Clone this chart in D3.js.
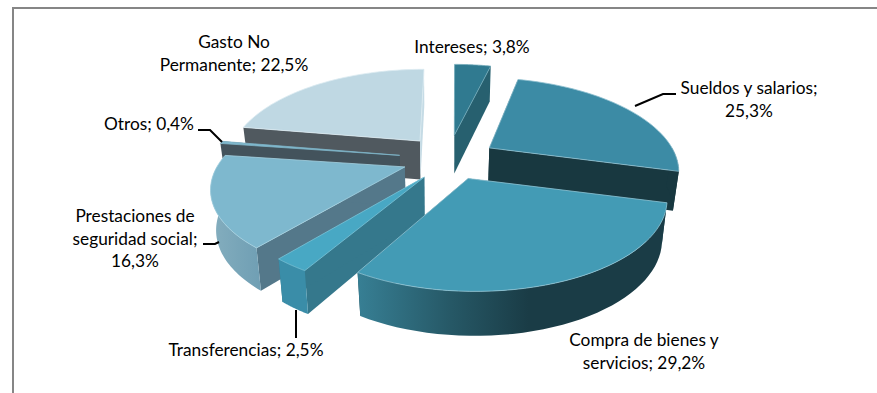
<!DOCTYPE html>
<html>
<head>
<meta charset="utf-8">
<style>html,body{margin:0;padding:0;background:#fff}svg{display:block}</style>
<script src="https://cdn.jsdelivr.net/npm/d3@7"></script>
</head>
<body>
<svg id="c" width="877" height="393"></svg>
<script>
const categories = ["Sueldos y salarios","Compra de bienes y servicios","Transferencias","Prestaciones de seguridad social","Otros","Gasto No Permanente","Intereses"];
const values = [25.3,29.2,2.5,16.3,0.4,22.5,3.8];
const wordsPerLine = [[3,1],[4,2],[2],[2,2,1],[2],[2,2],[2]];

const explode = [0.3,0.1,0.1,0.15,0.2,0.15,0.15];
const nudge = [[3,1],[21,10.5],[-5,10],[-9,2.3],[-4,-2],[-2.5,-9],[11,-12]];
const radius = [1.02,1,1,1.02,1.02,1.03,1.03];
const arcShift = [0,5,0,3,0,0,0];
const faceY = [1,0.95,0.95,0.93,1,1,1];
const drawOrder = [5,6,0,4,3,2,1];
const topFill   = ["#3c8ba5","#439bb5","#48a8c4","#7eb8ce","#7eb8ce","#bfd8e3","#307a90"];
const startWall = ["#183840","#1f4a57","#35788c","#54788a","#43535c","#50595f","#27606f"];
const endWall   = ["#183840","#1f4a57","#35788c","#54788a","#43535c","#c5dbe5","#27606f"];
const arcWall   = ["#183840","url(#gCompra)","#3a8da8","url(#gPrest)","#43535c","#50595f","#27606f"];
const edge      = ["#8fc0d0","#8fc4d4","#7cc4d8","#a5d0e0","#7fb4c6","#dcebf1","#6fa8b8"];
const labelPos  = [[749,94],[644,346],[246,356],[135,222],[149,130],[234,48],[472,53]];
const lineGap   = 22.7;
const leaders   = [[[635,106],[663,94],[676,94]],[],[[296,310],[296,338]],[[203,244],[215,244],[219,242]],[[198,130],[210,130],[222,142]],[],[]];

const svg = d3.select("#c");
const cx = 440, cy = 160, persp = 0.216;
const sx = d3.scaleLinear().domain([0,1]).range([0,185]);
const sy = d3.scaleLinear().domain([0,1]).range([0,-89]);
const project = (x,y,low,fy) => {
  const s = 1/(1+persp*y);
  let X = sx(x)*s, Y = sy(y)*s*fy;
  if (low) { X *= 0.975; Y = Y*1.045+39; }
  return [cx+X, cy+Y];
};
const line = d3.line();

const defs = svg.append("defs");
const grad = (id,x1,x2,stops) => {
  const g = defs.append("linearGradient").attr("id",id).attr("gradientUnits","userSpaceOnUse")
    .attr("x1",x1).attr("x2",x2).attr("y1",0).attr("y2",0);
  stops.forEach(([o,c]) => g.append("stop").attr("offset",o).attr("stop-color",c));
};
grad("gCompra",358,668,[[0,"#377f94"],[0.3,"#265866"],[0.55,"#1a3c46"],[1,"#1a3c46"]]);
grad("gPrest",208,270,[[0,"#86afbf"],[0.5,"#78a5b8"],[1,"#6c9cb2"]]);

svg.append("path").attr("d",line([[13,393],[13,8],[877,8]])).attr("fill","none").attr("stroke","#868686").attr("stroke-width",2);

const rot = 14;
const pie = d3.pie().sort(null).startAngle(rot*Math.PI/180).endAngle((rot+360)*Math.PI/180);
const arcs = pie(values);
const halfFront = [Math.PI/2, 3*Math.PI/2];

const g = svg.append("g");
drawOrder.forEach(i => {
  const a = arcs[i], mid = (a.startAngle+a.endAngle)/2, e = explode[i], r = radius[i], fy = faceY[i];
  const ox = e*Math.sin(mid), oy = e*Math.cos(mid);
  const shift = p => [p[0]+nudge[i][0], p[1]+nudge[i][1]];
  const pt = (th,low) => { const q = shift(project(ox+r*Math.sin(th), oy+r*Math.cos(th), low, fy)); return [q[0]+arcShift[i], q[1]]; };
  const apex = low => shift(project(ox,oy,low,fy));
  const sample = (a0,a1) => d3.range(0,41).map(k => a0+(a1-a0)*k/40);
  const wall = (th,fill) => g.append("path").attr("d",line([apex(false),pt(th,false),pt(th,true),apex(true)])+"Z").attr("fill",fill);
  wall(a.startAngle,startWall[i]);
  wall(a.endAngle,endWall[i]);
  const f0 = Math.max(a.startAngle,halfFront[0]), f1 = Math.min(a.endAngle,halfFront[1]);
  if (f1>f0) {
    const ths = sample(f0,f1);
    const pts = ths.map(t=>pt(t,false)).concat(ths.slice().reverse().map(t=>pt(t,true)));
    g.append("path").attr("d",line(pts)+"Z").attr("fill",arcWall[i]);
  }
  const ths = sample(a.startAngle,a.endAngle);
  g.append("path").attr("d",line([apex(false)].concat(ths.map(t=>pt(t,false))))+"Z")
    .attr("fill",topFill[i]).attr("stroke",edge[i]).attr("stroke-width",0.8).attr("stroke-linejoin","round");
});

leaders.forEach(l => { if (l.length) svg.append("path").attr("d",line(l)).attr("fill","none").attr("stroke","#000").attr("stroke-width",2); });

const fmt = d3.formatLocale({decimal:",",thousands:".",grouping:[3],currency:["","%"]}).format(".1f");
categories.forEach((c,i) => {
  const words = (c+"; "+fmt(values[i])+"%").split(" ");
  let k = 0;
  wordsPerLine[i].forEach((n,j) => {
    const t = words.slice(k, j===wordsPerLine[i].length-1 ? words.length : k+n).join(" ");
    k += n;
    svg.append("text").attr("x",labelPos[i][0]).attr("y",labelPos[i][1]+j*lineGap)
      .attr("text-anchor","middle").attr("font-family","Lato, Carlito, sans-serif").attr("font-size",17.3).attr("fill","#000").text(t);
  });
});
</script>
</body>
</html>
